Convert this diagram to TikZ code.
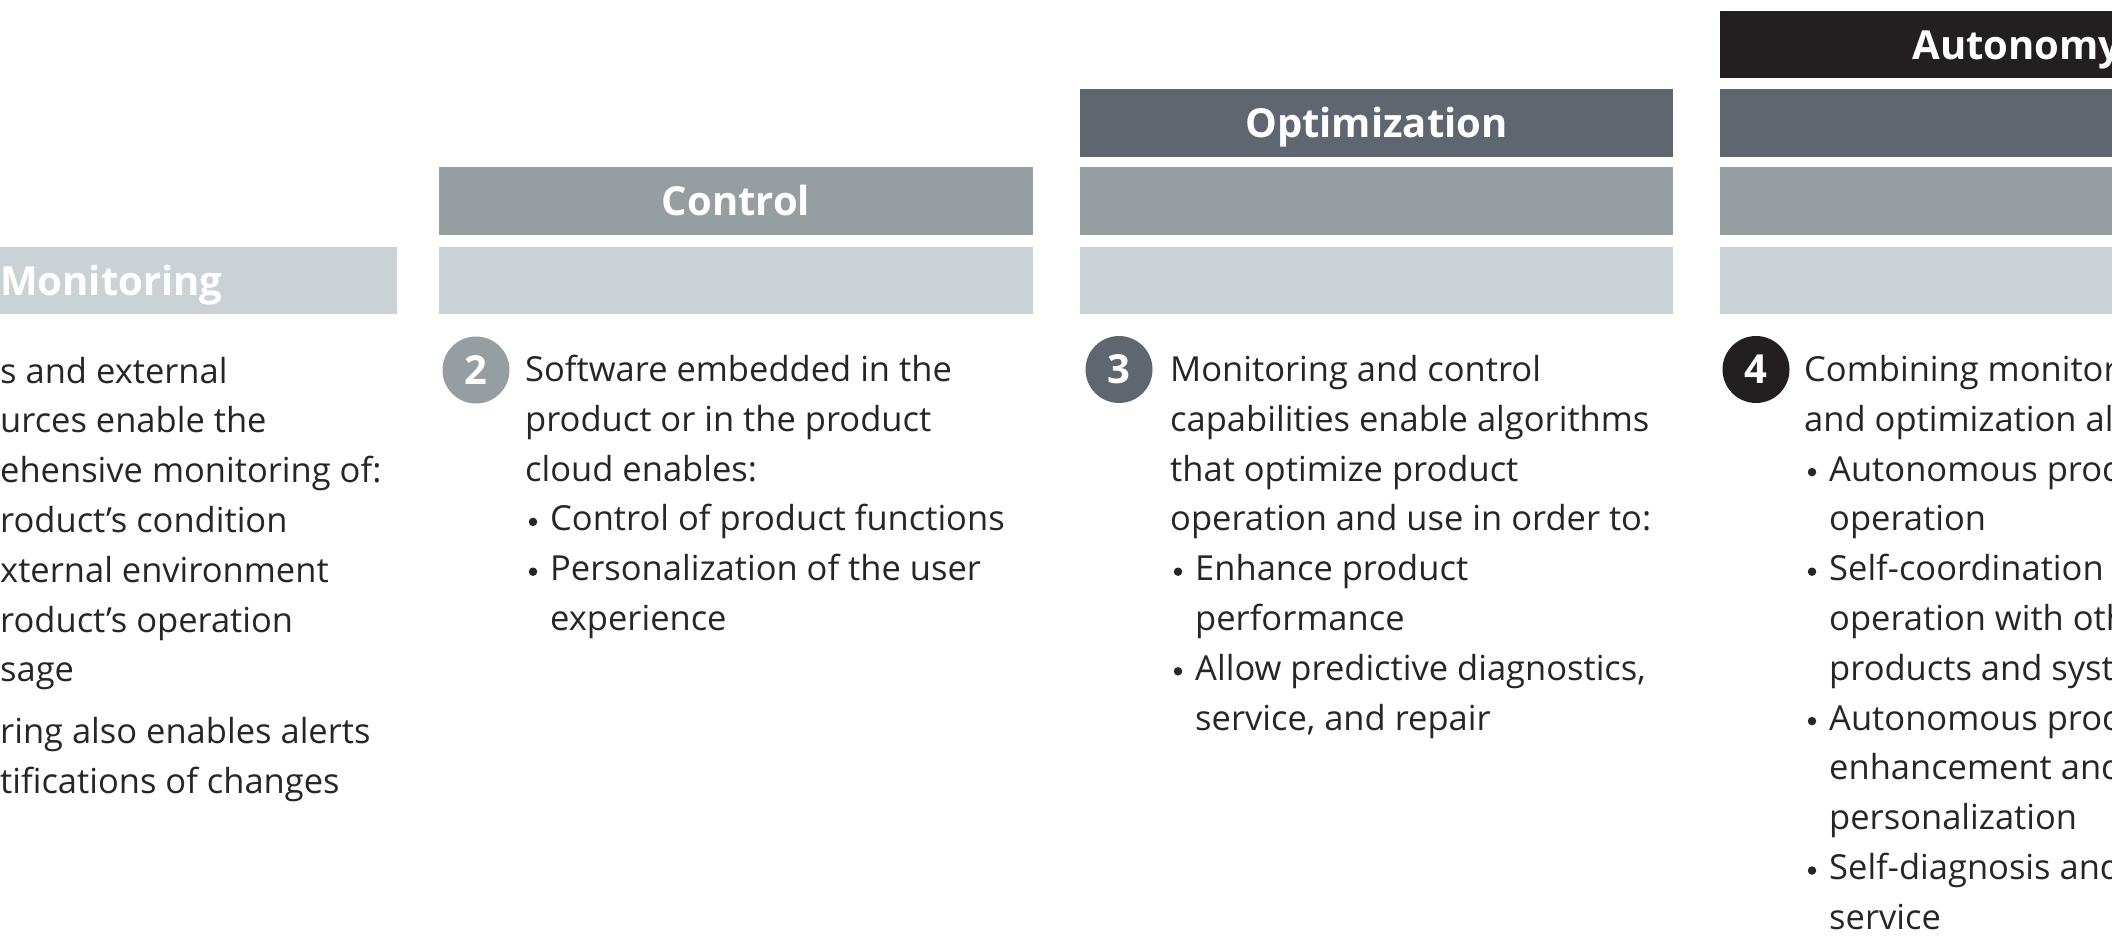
\documentclass[tikz,border=0pt]{standalone}
\usepackage{fontspec}
\setmainfont{Open Sans}
\definecolor{lightbar}{HTML}{CBD2D6}
\definecolor{midbar}{HTML}{979EA2}
\definecolor{darkbar}{HTML}{5F6670}
\definecolor{blackbar}{HTML}{231F20}
\definecolor{txt}{HTML}{262626}
\begin{document}
\begin{tikzpicture}[x=1pt,y=-1pt,
  body/.style={anchor=base west, inner sep=0pt, text=txt, font=\fontsize{34.5}{50}\selectfont},
  dot/.style={circle, fill=txt, inner sep=0pt, minimum size=8.5pt},
  head/.style={anchor=base, inner sep=0pt, text=white, font=\fontsize{40}{48}\selectfont\bfseries},
  num/.style={circle, inner sep=0pt, minimum size=67pt, text=white, font=\fontsize{40}{40}\selectfont\bfseries}]
\useasboundingbox (0,0) rectangle (2112,935);
\clip (0,0) rectangle (2112,935);
% ---- bars ----
% column 1
\fill[lightbar] (-197,246.7) rectangle (396.7,314.3);
% column 2
\fill[midbar]   (439.3,167) rectangle (1032.7,234.8);
\fill[lightbar] (439.3,246.7) rectangle (1032.7,314.3);
% column 3
\fill[darkbar]  (1080,89.3) rectangle (1672.7,156.7);
\fill[midbar]   (1080,167) rectangle (1672.7,234.8);
\fill[lightbar] (1080,246.7) rectangle (1672.7,314.3);
% column 4
\fill[blackbar] (1720.3,11) rectangle (2313.7,78.3);
\fill[darkbar]  (1720.3,89.3) rectangle (2313.7,156.7);
\fill[midbar]   (1720.3,167) rectangle (2313.7,234.8);
\fill[lightbar] (1720.3,246.7) rectangle (2313.7,314.3);
% ---- headings ----
\node[head, anchor=base west] (h1) at (0,295) {Monitoring};
\node[head] (h2) at (736,215) {Control};
\node[head] (h3) at (1376.4,137.3) {Optimization};
\node[head] (h4) at (2017,59) {Autonomy};
% ---- numbered circles ----
\node[num, fill=midbar]   (n2) at (476,370) {2};
\node[num, fill=darkbar]  (n3) at (1119,369.5) {3};
\node[num, fill=blackbar] (n4) at (1756,369.5) {4};
% ---- column 1 text (clipped) ----
\node[body] (a0) at (0,383)   {s and external};
\node[body] (a1) at (0,432.8) {urces enable the};
\node[body] (a2) at (0,482.6) {ehensive monitoring of:};
\node[body] (a3) at (0,532.4) {roduct’s condition};
\node[body] (a4) at (0,582.2) {xternal environment};
\node[body] (a5) at (0,632)   {roduct’s operation};
\node[body] (a6) at (0,681.8) {sage};
\node[body] (a7) at (0,743.3) {ring also enables alerts};
\node[body] (a8) at (0,793.1) {tifications of changes};
% ---- column 2 text ----
\node[body] (b0) at (525,381.5) {Software embedded in the};
\node[body] (b1) at (525,431.3) {product or in the product};
\node[body] (b2) at (525,481.1) {cloud enables:};
\node[dot]  (b3d) at (533,521.9) {};
\node[body] (b3) at (550,530.9) {Control of product functions};
\node[dot]  (b4d) at (533,571.7) {};
\node[body] (b4) at (550,580.7) {Personalization of the user};
\node[body] (b5) at (550,630.5) {experience};
% ---- column 3 text ----
\node[body] (c0) at (1170,381.5) {Monitoring and control};
\node[body] (c1) at (1170,431.3) {capabilities enable algorithms};
\node[body] (c2) at (1170,481.1) {that optimize product};
\node[body] (c3) at (1170,530.9) {operation and use in order to:};
\node[dot]  (c4d) at (1178,571.7) {};
\node[body] (c4) at (1195,580.7) {Enhance product};
\node[body] (c5) at (1195,630.5) {performance};
\node[dot]  (c6d) at (1178,671.3) {};
\node[body] (c6) at (1195,680.3) {Allow predictive diagnostics,};
\node[body] (c7) at (1195,730.1) {service, and repair};
% ---- column 4 text (clipped) ----
\node[body] (d0) at (1804,381.5) {Combining monitor};
\node[body] (d1) at (1804,431.3) {and optimization al};
\node[dot]  (d2d) at (1812,472.1) {};
\node[body] (d2) at (1829,481.1) {Autonomous prod};
\node[body] (d3) at (1829,530.9) {operation};
\node[dot]  (d4d) at (1812,571.7) {};
\node[body] (d4) at (1829,580.7) {Self-coordination};
\node[body] (d5) at (1829,630.5) {operation with oth};
\node[body] (d6) at (1829,680.3) {products and syst};
\node[dot]  (d7d) at (1812,721.1) {};
\node[body] (d7) at (1829,730.1) {Autonomous prod};
\node[body] (d8) at (1829,779.9) {enhancement and};
\node[body] (d9) at (1829,829.7) {personalization};
\node[dot]  (d10d) at (1812,870.5) {};
\node[body] (d10) at (1829,879.5) {Self-diagnosis and};
\node[body] (d11) at (1829,929.3) {service};
\end{tikzpicture}
\end{document}
